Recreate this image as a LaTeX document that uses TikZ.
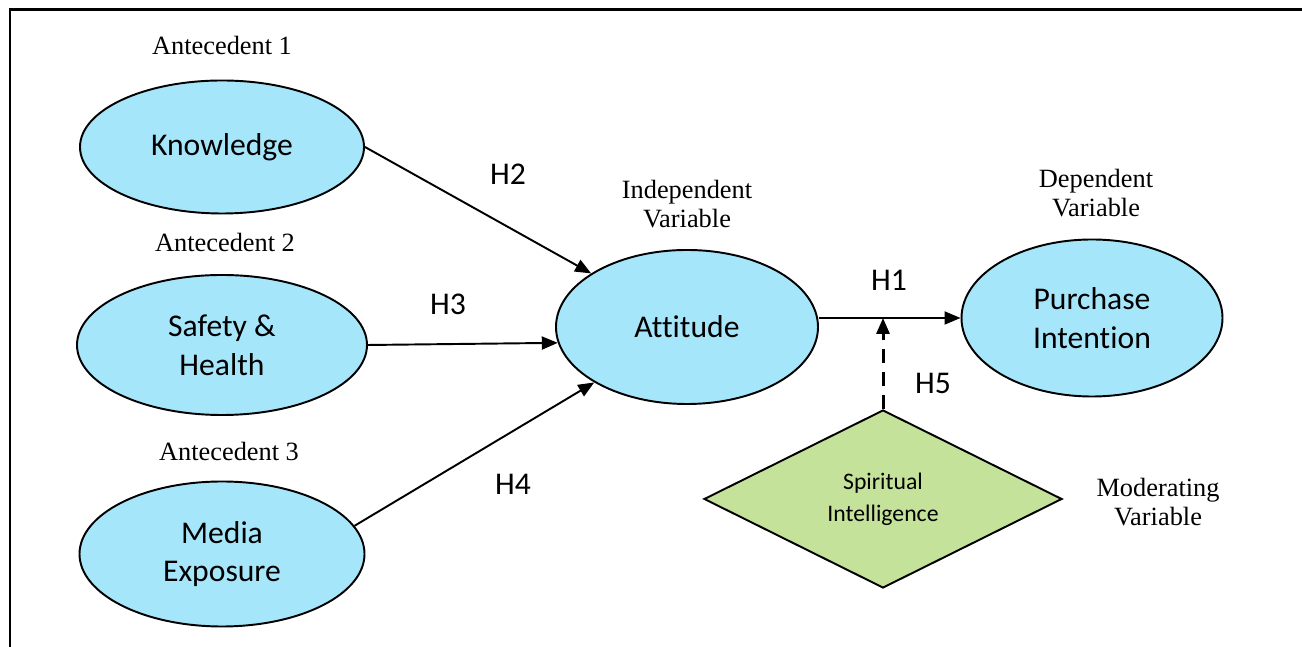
\documentclass[tikz,border=0pt]{standalone}
\usepackage{fontspec}
\setmainfont{Liberation Serif}
\newfontfamily\calibri[Ligatures=NoCommon]{Carlito}
\usetikzlibrary{shapes.geometric,arrows.meta}
\definecolor{skyfill}{RGB}{166,230,251}
\definecolor{olivefill}{RGB}{196,226,154}
\tikzset{
construct/.style={
	  draw, ellipse, fill=skyfill, line width=1.1pt, align=center,
	    font=\calibri\fontsize{18}{22}\selectfont, inner sep=0pt},
moderator/.style={
	  draw, diamond, fill=olivefill, line width=1.1pt, align=center,
	    font=\calibri\fontsize{13.5}{18}\selectfont, inner sep=0pt,
	    minimum width=7.16cm, minimum height=3.56cm},
role/.style={align=center, font=\fontsize{15}{16.5}\selectfont},
hyp/.style={font=\calibri\fontsize{18}{22}\selectfont},
path/.style={line width=1.1pt, -{Triangle[length=0.32cm,width=0.26cm]}}
}
\begin{document}
\begin{tikzpicture}
	\useasboundingbox (0,0) rectangle (26.04,12.94);
	\draw[line width=1.7pt] (0.2,0) -- (0.2,12.74) -- (26.04,12.74);
	\node[construct, minimum width=5.68cm, minimum height=2.66cm] (know) at (4.44,10.0) {Knowledge};
	\node[construct, minimum width=5.8cm, minimum height=2.8cm] (safe) at (4.44,6.04) {Safety \&\\Health};
	\node[construct, minimum width=5.7cm, minimum height=2.9cm] (media) at (4.44,1.86) {Media\\Exposure};
	\node[construct, minimum width=5.24cm, minimum height=3.08cm] (att) at (13.74,6.4) {Attitude};
	\node[construct, minimum width=5.22cm, minimum height=3.14cm] (pi) at (21.84,6.58) {Purchase\\Intention};
	\node[moderator] (si) at (17.66,2.96) {Spiritual\\Intelligence};
	\node[role] (ant1) at (4.44,12.04) {Antecedent 1};
	\node[role] (ant2) at (4.5,8.1) {Antecedent 2};
	\node[role] (ant3) at (4.58,3.92) {Antecedent 3};
	\node[role] (iv) at (13.74,8.86) {Independent\\Variable};
	\node[role] (dv) at (21.92,9.08) {Dependent\\Variable};
	\node[role] (mv) at (23.16,2.9) {Moderating\\Variable};
	\node[hyp] (h2) at (10.16,9.46) {H2};
	\node[hyp] (h3) at (8.96,6.86) {H3};
	\node[hyp] (h4) at (10.26,3.26) {H4};
	\node[hyp] (h1) at (17.78,7.34) {H1};
	\node[hyp] (h5) at (18.66,5.28) {H5};
	\coordinate (joint) at (si.north |- pi.west);
	\draw[path] (know.east) -- (att);
	\draw[path] (safe.east) -- (att.187);
	\draw[path] (media.12) -- (att);
	\draw[path] (att.east |- pi.west) -- (pi.west);
	\draw[path, dashed, line width=1.7pt, dash pattern=on 8pt off 5pt] (si.north) -- (joint);
\end{tikzpicture}
\end{document}
